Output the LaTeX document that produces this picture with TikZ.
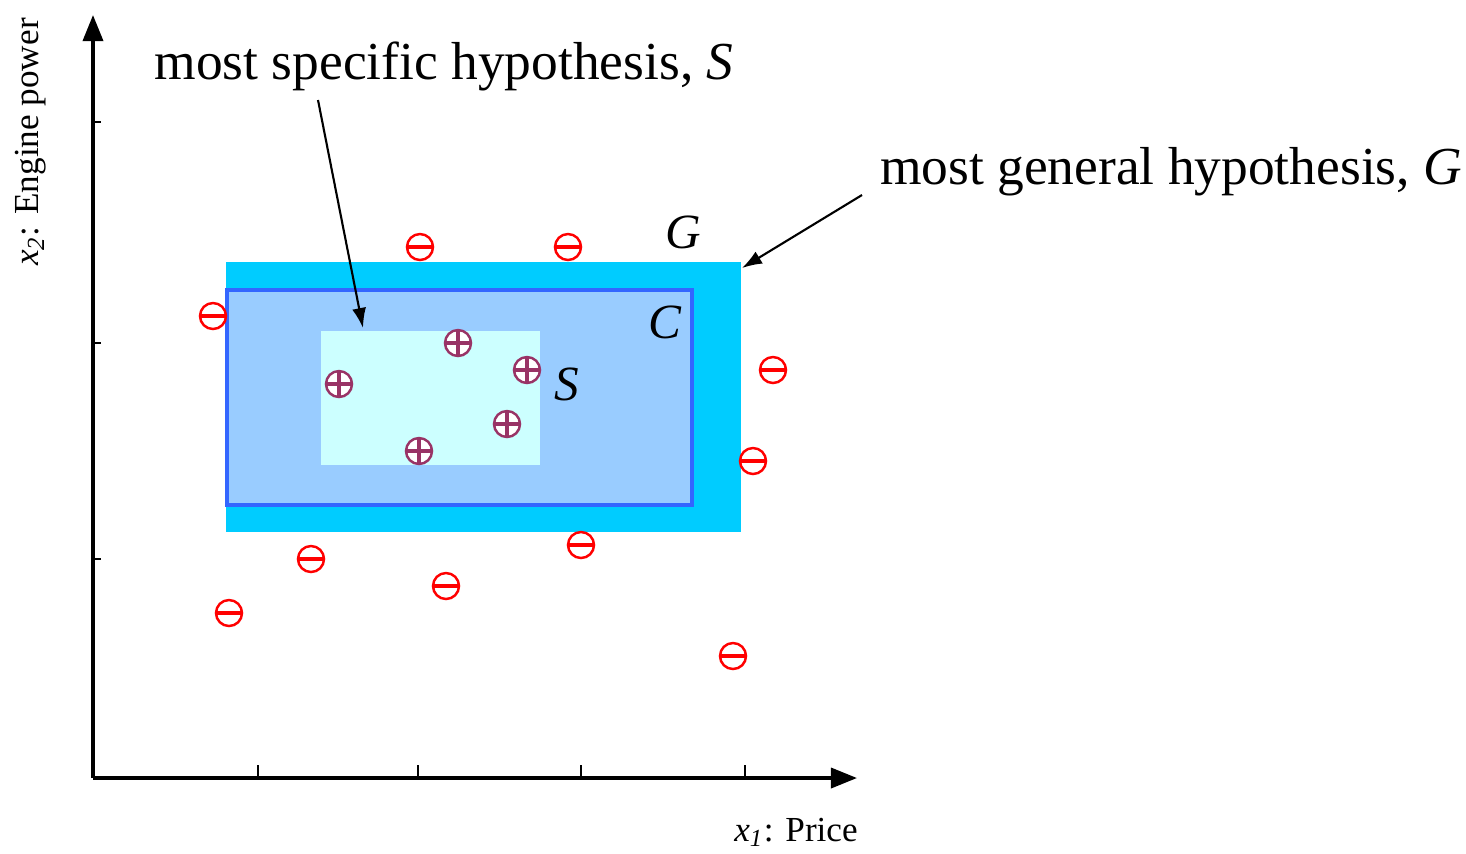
\documentclass[tikz,border=0pt]{standalone}
\usepackage{fontspec}
\setmainfont{Liberation Serif}
\usetikzlibrary{arrows.meta,positioning}

\definecolor{gcyan}{HTML}{00CCFF}
\definecolor{cblue}{HTML}{99CCFF}
\definecolor{cline}{HTML}{3366FF}
\definecolor{scyan}{HTML}{CCFFFF}
\definecolor{negred}{HTML}{FF0000}
\definecolor{pospurple}{HTML}{993366}

\tikzset{
  axis/.style={line width=1pt, -{Triangle[length=0.26cm,width=0.2cm]}},
  negex/.style={circle, draw=negred, fill=white, line width=0.7pt, inner sep=0pt,
    minimum size=0.26cm,
    path picture={\draw[negred, line width=1pt] (path picture bounding box.west) -- (path picture bounding box.east);}},
  posex/.style={circle, draw=pospurple, fill=white, line width=0.7pt, inner sep=0pt,
    minimum size=0.26cm,
    path picture={\draw[pospurple, line width=1pt]
      (path picture bounding box.west) -- (path picture bounding box.east)
      (path picture bounding box.north) -- (path picture bounding box.south);}},
  biglabel/.style={font=\fontsize{15.2}{17}\selectfont, inner sep=0pt},
  rectlabel/.style={font=\fontsize{14}{16}\selectfont\itshape, inner sep=0pt},
  axlabel/.style={font=\fontsize{10}{12}\selectfont, inner sep=0pt},
  pointer/.style={line width=0.6pt, -{Latex[length=0.2cm,width=0.14cm]}}
}

\begin{document}
\begin{tikzpicture}[x=0.01cm,y=-0.01cm]
  \useasboundingbox (0,0) rectangle (1466,853);

  % Hypotheses
  \fill[gcyan] (226,262) rectangle (741,532);
  \filldraw[fill=cblue, draw=cline, line width=1pt] (227,290) rectangle (692,505);
  \fill[scyan] (321,331) rectangle (540,465);

  % Axes
  \coordinate (O) at (93,778);
  \draw[axis] (O) -- (93,15);
  \draw[axis] (O) -- (857,778);
  \foreach \x in {258,418,581,745}
    \draw[line width=0.8pt] (\x,778) -- (\x,765);
  \foreach \y in {122,343,559}
    \draw[line width=0.8pt] (93,\y) -- (101,\y);

  \node[axlabel, rotate=90] (ylab) at (31,142) {\textit{x}\textsubscript{\textit{2}}: Engine power};
  \node[axlabel] (xlab) at (796,832) {\textit{x}\textsubscript{\textit{1}}: Price};

  % Labels of the rectangles
  \node[rectlabel] (lG) at (683,232) {G};
  \node[rectlabel] (lC) at (665,322) {C};
  \node[rectlabel] (lS) at (567,384) {S};

  % Negative examples
  \node[negex] (n1) at (420,247) {};
  \node[negex] (n2) at (568,247) {};
  \node[negex] (n3) at (213,316) {};
  \node[negex] (n4) at (773,370) {};
  \node[negex] (n5) at (753,461) {};
  \node[negex] (n6) at (311,559) {};
  \node[negex] (n7) at (581,545) {};
  \node[negex] (n8) at (446,586) {};
  \node[negex] (n9) at (229,613) {};
  \node[negex] (n10) at (733,656) {};

  % Positive examples
  \node[posex] (p1) at (458,343) {};
  \node[posex] (p2) at (527,370) {};
  \node[posex] (p3) at (339,384) {};
  \node[posex] (p4) at (507,424) {};
  \node[posex] (p5) at (419,451) {};

  % Callouts
  \node[biglabel] (spec) at (444,66) {most specific hypothesis, \textit{S}};
  \node[biglabel] (gen) at (1171,172) {most general hypothesis, \textit{G}};
  \coordinate (sTip) at (363,328);
  \coordinate (gTip) at (742,268);
  \draw[pointer] (318,100) -- (sTip);
  \draw[pointer] (862,195) -- (gTip);
\end{tikzpicture}
\end{document}
